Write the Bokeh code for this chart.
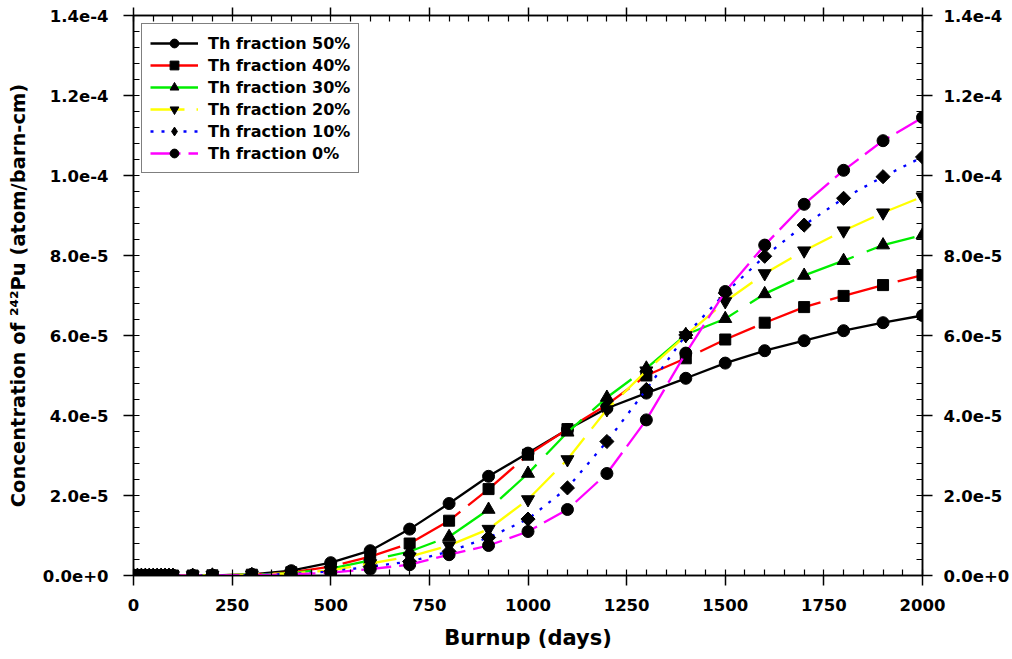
import numpy as np
from bokeh.plotting import figure
from bokeh.models import (LinearAxis, FixedTicker, CustomJSTickFormatter, Range1d,
                          LegendItem, Legend)
from bokeh.embed import file_html
from bokeh.resources import INLINE

# ---------------- data ----------------
days = [0, 10, 20, 30, 40, 50, 60, 70, 80, 90, 100, 150, 200,
        300, 400, 500, 600, 700, 800, 900, 1000, 1100, 1200, 1300,
        1400, 1500, 1600, 1700, 1800, 1900, 2000]

UNIT = 1e-5  # values below are in units of 1e-5 atom/barn-cm
early = [0, 0, 0, 0, 0, 0, 0, 0, 0, 0, 0, 0, 0.005]

th50 = early + [0.03, 0.12, 0.32, 0.62, 1.16, 1.80, 2.48, 3.06, 3.65, 4.18,
                4.56, 4.93, 5.31, 5.62, 5.87, 6.12, 6.32, 6.50]
th40 = early + [0.02, 0.08, 0.22, 0.47, 0.80, 1.37, 2.16, 3.02, 3.66, 4.27,
                5.00, 5.43, 5.90, 6.32, 6.71, 6.99, 7.26, 7.51]
th30 = early + [0.02, 0.06, 0.17, 0.38, 0.60, 0.97, 1.65, 2.55, 3.58, 4.45,
                5.18, 6.02, 6.42, 7.04, 7.50, 7.87, 8.26, 8.51]
th20 = early + [0.02, 0.05, 0.13, 0.30, 0.47, 0.75, 1.16, 1.90, 2.90, 4.15,
                5.12, 6.00, 6.85, 7.55, 8.12, 8.62, 9.07, 9.47]
th10 = early + [0.01, 0.04, 0.10, 0.22, 0.35, 0.60, 0.95, 1.41, 2.19, 3.35,
                4.65, 6.01, 7.06, 7.98, 8.76, 9.43, 9.97, 10.46]
th00 = early + [0.01, 0.03, 0.07, 0.16, 0.27, 0.52, 0.75, 1.10, 1.65, 2.55,
                3.89, 5.56, 7.10, 8.26, 9.28, 10.13, 10.87, 11.45]

series_labels = ["Th fraction 50%", "Th fraction 40%", "Th fraction 30%",
                 "Th fraction 20%", "Th fraction 10%", "Th fraction 0%"]
series_values = [th50, th40, th30, th20, th10, th00]

xticks = [0, 250, 500, 750, 1000, 1250, 1500, 1750, 2000]
yticks = [0.0, 2e-5, 4e-5, 6e-5, 8e-5, 1.0e-4, 1.2e-4, 1.4e-4]
ytick_labels = ["0.0e+0", "2.0e-5", "4.0e-5", "6.0e-5", "8.0e-5",
                "1.0e-4", "1.2e-4", "1.4e-4"]

# ---------------- styles ----------------
colors = ["#000000", "#FF0000", "#00EE00", "#FFFF00", "#0000FF", "#FF00FF"]
dashes = ["solid", "60 10", "50 14", "34 12", "3 8", "30 8"]
markers = ["circle", "square", "triangle", "inverted_triangle", "square", "circle"]
legend_markers = ["circle", "square", "triangle", "inverted_triangle", "diamond", "circle"]
msizes = [12, 11, 13, 13, 10, 12]
legend_sizes = [12, 11, 13, 13, 15, 12]
angles = [0, 0, 0, 0, np.pi / 4, 0]

FONT = "DejaVu Sans"

p = figure(width=1012, height=652, output_backend="svg", toolbar_location=None,
           x_range=Range1d(0, 2000), y_range=Range1d(0, 1.4e-4),
           min_border_left=133, min_border_right=90, min_border_top=15,
           min_border_bottom=76)
p.grid.visible = False
p.outline_line_color = "black"
p.outline_line_width = 1.5
p.background_fill_color = "white"
p.border_fill_color = "white"

items = []
for lab, vals, c, d, m, lm, s, ls, a in zip(series_labels, series_values, colors,
                                            dashes, markers, legend_markers,
                                            msizes, legend_sizes, angles):
    y = [v * UNIT for v in vals]
    ln = p.line(days, y, line_color=c, line_width=2.3, line_dash=d)
    sc = p.scatter(days, y, marker=m, size=s, angle=a, fill_color="black",
                   line_color="black")
    if m == lm:
        items.append(LegendItem(label=lab, renderers=[ln, sc]))
    else:
        # legend-only marker (rotated markers are not rotated in legends)
        lsc = p.scatter(days, y, marker=lm, size=ls, fill_color="black",
                        line_color="black", visible=False)
        items.append(LegendItem(label=lab, renderers=[ln, lsc]))

xticker = FixedTicker(ticks=xticks, minor_ticks=list(range(0, 2001, 50)))
yticker = FixedTicker(ticks=yticks, minor_ticks=[i * 4e-6 for i in range(36)])
yfmt = CustomJSTickFormatter(args=dict(tv=yticks, tl=ytick_labels), code="""
let best = 0, bd = Infinity;
for (let i = 0; i < tv.length; i++) {
  const d = Math.abs(tv[i] - tick);
  if (d < bd) { bd = d; best = i; }
}
return tl[best];
""")
blankfmt = CustomJSTickFormatter(code="return '';")


def style_axis(ax):
    ax.axis_line_color = "black"
    ax.axis_line_width = 1.5
    ax.major_tick_line_color = "black"
    ax.major_tick_line_width = 1.5
    ax.minor_tick_line_color = "black"
    ax.minor_tick_line_width = 1.2
    ax.major_tick_out = 10
    ax.major_tick_in = 0
    ax.minor_tick_in = 6
    ax.minor_tick_out = 0
    ax.major_label_text_font = FONT
    ax.major_label_text_font_style = "bold"
    ax.major_label_text_font_size = "16.5px"
    ax.major_label_text_color = "black"
    ax.axis_label_text_font = FONT
    ax.axis_label_text_font_style = "bold"
    ax.axis_label_text_color = "black"


xa = p.xaxis[0]
xa.ticker = xticker
style_axis(xa)
xa.major_label_standoff = 13
xa.axis_label = "Burnup (days)"
xa.axis_label_text_font_size = "21px"
xa.axis_label_standoff = 12

ya = p.yaxis[0]
ya.ticker = yticker
ya.formatter = yfmt
style_axis(ya)
ya.major_label_standoff = 15
ya.axis_label = "Concentration of \u00b2\u2074\u00b2Pu (atom/barn-cm)"
ya.axis_label_text_font_size = "19.5px"
ya.axis_label_standoff = 10

ra = LinearAxis(ticker=yticker, formatter=yfmt)
style_axis(ra)
ra.major_label_standoff = 11
p.add_layout(ra, "right")

ta = LinearAxis(ticker=xticker, formatter=blankfmt)
style_axis(ta)
ta.major_tick_out = 8
ta.major_label_standoff = 0
p.add_layout(ta, "above")

lg = Legend(items=items, location="top_left")
lg.click_policy = "none"
lg.margin = 8
lg.padding = 8
lg.spacing = 0
lg.label_height = 22
lg.glyph_height = 22
lg.glyph_width = 48
lg.label_standoff = 10
lg.label_text_font = FONT
lg.label_text_font_style = "bold"
lg.label_text_font_size = "16px"
lg.label_text_color = "black"
lg.border_line_color = "black"
lg.border_line_width = 1.5
lg.background_fill_color = "white"
lg.background_fill_alpha = 1.0
lg.inactive_fill_alpha = 0.0
p.add_layout(lg, "center")

open("out.html", "w").write(file_html(p, INLINE))
